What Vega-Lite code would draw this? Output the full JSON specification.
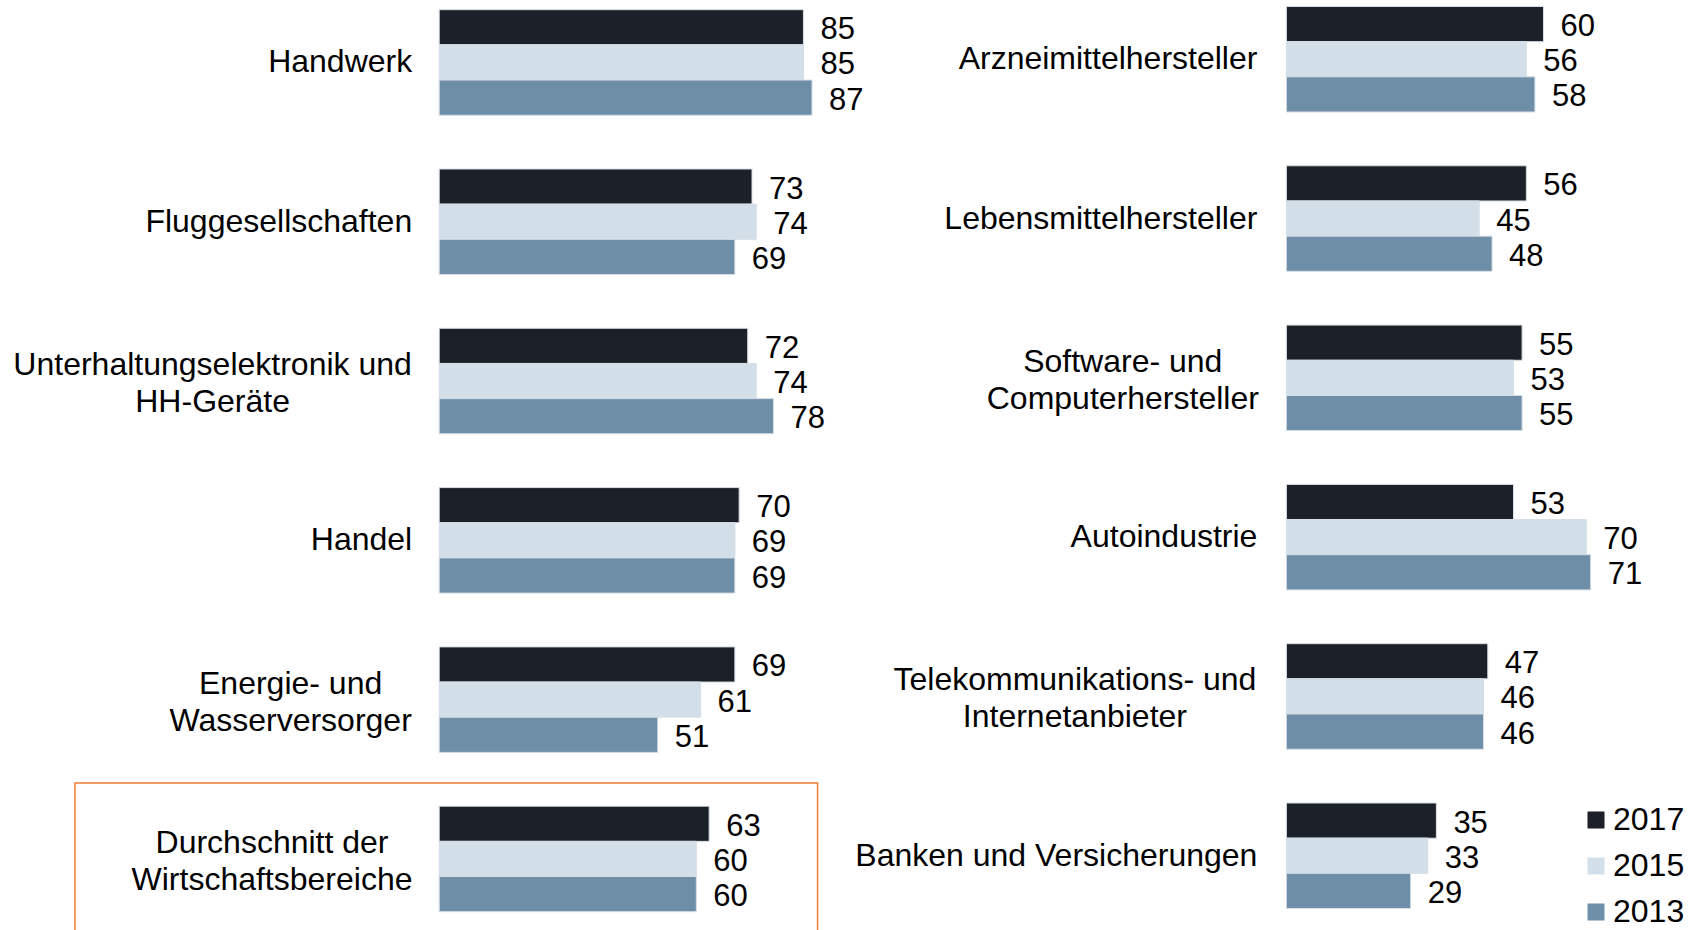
{
  "$schema": "https://vega.github.io/schema/vega-lite/v6.json",
  "padding": 0,
  "spacing": 0,
  "bounds": "flush",
  "background": "white",
  "config": {
    "view": {"stroke": null},
    "font": "Liberation Sans",
    "text": {"font": "Liberation Sans", "color": "#000000"},
    "legend": {
      "orient": "none",
      "legendX": 1580,
      "legendY": 804,
      "padding": 0,
      "symbolType": "square",
      "symbolSize": 289,
      "symbolStrokeWidth": 0,
      "labelFont": "Liberation Sans",
      "labelFontSize": 32,
      "labelColor": "#000000",
      "labelOffset": 1,
      "rowPadding": 14
    }
  },
  "datasets": {
    "left": [
      {"cat": "Handwerk", "year": "2017", "value": 85},
      {"cat": "Handwerk", "year": "2015", "value": 85},
      {"cat": "Handwerk", "year": "2013", "value": 87},
      {"cat": "Fluggesellschaften", "year": "2017", "value": 73},
      {"cat": "Fluggesellschaften", "year": "2015", "value": 74},
      {"cat": "Fluggesellschaften", "year": "2013", "value": 69},
      {"cat": "Unterhaltungselektronik und|HH-Geräte", "year": "2017", "value": 72},
      {"cat": "Unterhaltungselektronik und|HH-Geräte", "year": "2015", "value": 74},
      {"cat": "Unterhaltungselektronik und|HH-Geräte", "year": "2013", "value": 78},
      {"cat": "Handel", "year": "2017", "value": 70},
      {"cat": "Handel", "year": "2015", "value": 69},
      {"cat": "Handel", "year": "2013", "value": 69},
      {"cat": "Energie- und|Wasserversorger", "year": "2017", "value": 69},
      {"cat": "Energie- und|Wasserversorger", "year": "2015", "value": 61},
      {"cat": "Energie- und|Wasserversorger", "year": "2013", "value": 51},
      {"cat": "Durchschnitt der|Wirtschaftsbereiche", "year": "2017", "value": 63},
      {"cat": "Durchschnitt der|Wirtschaftsbereiche", "year": "2015", "value": 60},
      {"cat": "Durchschnitt der|Wirtschaftsbereiche", "year": "2013", "value": 60}
    ],
    "right": [
      {"cat": "Arzneimittelhersteller", "year": "2017", "value": 60},
      {"cat": "Arzneimittelhersteller", "year": "2015", "value": 56},
      {"cat": "Arzneimittelhersteller", "year": "2013", "value": 58},
      {"cat": "Lebensmittelhersteller", "year": "2017", "value": 56},
      {"cat": "Lebensmittelhersteller", "year": "2015", "value": 45},
      {"cat": "Lebensmittelhersteller", "year": "2013", "value": 48},
      {"cat": "Software- und|Computerhersteller", "year": "2017", "value": 55},
      {"cat": "Software- und|Computerhersteller", "year": "2015", "value": 53},
      {"cat": "Software- und|Computerhersteller", "year": "2013", "value": 55},
      {"cat": "Autoindustrie", "year": "2017", "value": 53},
      {"cat": "Autoindustrie", "year": "2015", "value": 70},
      {"cat": "Autoindustrie", "year": "2013", "value": 71},
      {"cat": "Telekommunikations- und|Internetanbieter", "year": "2017", "value": 47},
      {"cat": "Telekommunikations- und|Internetanbieter", "year": "2015", "value": 46},
      {"cat": "Telekommunikations- und|Internetanbieter", "year": "2013", "value": 46},
      {"cat": "Banken und Versicherungen", "year": "2017", "value": 35},
      {"cat": "Banken und Versicherungen", "year": "2015", "value": 33},
      {"cat": "Banken und Versicherungen", "year": "2013", "value": 29}
    ]
  },
  "resolve": {"scale": {"x": "independent", "y": "independent"}},
  "hconcat": [
    {
      "width": 850,
      "height": 930,
      "data": {"name": "left"},
      "encoding": {
        "y": {
          "field": "cat",
          "type": "nominal",
          "axis": null,
          "scale": {
            "domain": ["Handwerk", "Fluggesellschaften", "Unterhaltungselektronik und|HH-Geräte", "Handel", "Energie- und|Wasserversorger", "Durchschnitt der|Wirtschaftsbereiche"],
            "paddingInner": 0.3377,
            "paddingOuter": 0.0879,
            "align": 0.346
          }
        }
      },
      "layer": [
        {
          "transform": [{"filter": "datum.cat === 'Durchschnitt der|Wirtschaftsbereiche' && datum.year === '2017'"}],
          "mark": {"type": "rect", "fill": null, "fillOpacity": 0, "stroke": "#ED7D31", "strokeWidth": 1.5, "height": {"band": 1.44}},
          "encoding": {
            "x": {"datum": -85, "type": "quantitative", "scale": {"domain": [-102.5, 95.87], "nice": false, "zero": false}, "axis": null},
            "x2": {"datum": 88.3}
          }
        },
        {
          "mark": {"type": "bar", "stroke": "#d6dee6", "strokeWidth": 1},
          "encoding": {
            "x": {"field": "value", "type": "quantitative", "scale": {"domain": [-102.5, 95.87], "nice": false, "zero": false}, "axis": null},
            "yOffset": {"field": "year", "type": "nominal", "scale": {"domain": ["2017", "2015", "2013"], "paddingInner": 0, "paddingOuter": 0}},
            "color": {"field": "year", "type": "nominal", "title": null, "scale": {"domain": ["2017", "2015", "2013"], "range": ["#1c2129", "#d3dfe8", "#6e8ea8"]}}
          }
        },
        {
          "mark": {"type": "text", "align": "left", "baseline": "middle", "dx": 17, "dy": 3, "fontSize": 31},
          "encoding": {
            "x": {"field": "value", "type": "quantitative"},
            "yOffset": {"field": "year", "type": "nominal"},
            "text": {"field": "value", "type": "quantitative"}
          }
        },
        {
          "transform": [{"filter": "datum.year === '2017' && indexof(datum.cat, '|') < 0"}],
          "mark": {"type": "text", "align": "right", "baseline": "middle", "dx": -27, "fontSize": 32},
          "encoding": {"x": {"datum": 0, "type": "quantitative"}, "text": {"field": "cat"}}
        },
        {
          "transform": [{"filter": "datum.year === '2017' && datum.cat === 'Unterhaltungselektronik und|HH-Geräte'"}],
          "mark": {"type": "text", "align": "center", "baseline": "middle", "dx": -226.6, "dy": -16, "fontSize": 32, "lineBreak": "|", "lineHeight": 37},
          "encoding": {"x": {"datum": 0, "type": "quantitative"}, "text": {"field": "cat"}}
        },
        {
          "transform": [{"filter": "datum.year === '2017' && datum.cat === 'Energie- und|Wasserversorger'"}],
          "mark": {"type": "text", "align": "center", "baseline": "middle", "dx": -148.6, "dy": -16, "fontSize": 32, "lineBreak": "|", "lineHeight": 37},
          "encoding": {"x": {"datum": 0, "type": "quantitative"}, "text": {"field": "cat"}}
        },
        {
          "transform": [{"filter": "datum.year === '2017' && datum.cat === 'Durchschnitt der|Wirtschaftsbereiche'"}],
          "mark": {"type": "text", "align": "center", "baseline": "middle", "dx": -167.2, "dy": -16, "fontSize": 32, "lineBreak": "|", "lineHeight": 37},
          "encoding": {"x": {"datum": 0, "type": "quantitative"}, "text": {"field": "cat"}}
        }
      ]
    },
    {
      "width": 838,
      "height": 930,
      "data": {"name": "right"},
      "encoding": {
        "y": {
          "field": "cat",
          "type": "nominal",
          "axis": null,
          "scale": {
            "domain": ["Arzneimittelhersteller", "Lebensmittelhersteller", "Software- und|Computerhersteller", "Autoindustrie", "Telekommunikations- und|Internetanbieter", "Banken und Versicherungen"],
            "paddingInner": 0.3377,
            "paddingOuter": 0.0879,
            "align": 0.232
          }
        }
      },
      "layer": [
        {
          "mark": {"type": "bar", "stroke": "#d6dee6", "strokeWidth": 1},
          "encoding": {
            "x": {"field": "value", "type": "quantitative", "scale": {"domain": [-101.84, 93.72], "nice": false, "zero": false}, "axis": null},
            "yOffset": {"field": "year", "type": "nominal", "scale": {"domain": ["2017", "2015", "2013"], "paddingInner": 0, "paddingOuter": 0}},
            "color": {"field": "year", "type": "nominal", "title": null, "scale": {"domain": ["2017", "2015", "2013"], "range": ["#1c2129", "#d3dfe8", "#6e8ea8"]}}
          }
        },
        {
          "mark": {"type": "text", "align": "left", "baseline": "middle", "dx": 17, "dy": 3, "fontSize": 31},
          "encoding": {
            "x": {"field": "value", "type": "quantitative"},
            "yOffset": {"field": "year", "type": "nominal"},
            "text": {"field": "value", "type": "quantitative"}
          }
        },
        {
          "transform": [{"filter": "datum.year === '2017' && indexof(datum.cat, '|') < 0"}],
          "mark": {"type": "text", "align": "right", "baseline": "middle", "dx": -29, "fontSize": 32},
          "encoding": {"x": {"datum": 0, "type": "quantitative"}, "text": {"field": "cat"}}
        },
        {
          "transform": [{"filter": "datum.year === '2017' && datum.cat === 'Software- und|Computerhersteller'"}],
          "mark": {"type": "text", "align": "center", "baseline": "middle", "dx": -163.6, "dy": -16, "fontSize": 32, "lineBreak": "|", "lineHeight": 37},
          "encoding": {"x": {"datum": 0, "type": "quantitative"}, "text": {"field": "cat"}}
        },
        {
          "transform": [{"filter": "datum.year === '2017' && datum.cat === 'Telekommunikations- und|Internetanbieter'"}],
          "mark": {"type": "text", "align": "center", "baseline": "middle", "dx": -211.5, "dy": -16, "fontSize": 32, "lineBreak": "|", "lineHeight": 37},
          "encoding": {"x": {"datum": 0, "type": "quantitative"}, "text": {"field": "cat"}}
        }
      ]
    }
  ]
}
